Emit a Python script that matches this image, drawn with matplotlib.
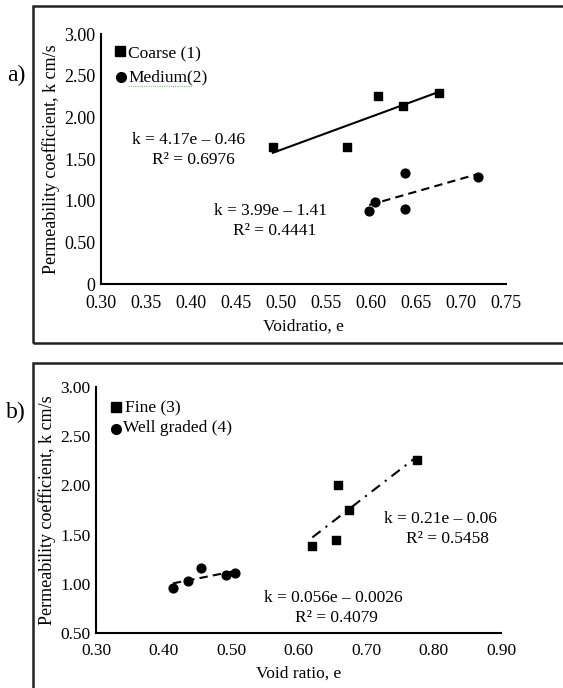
import numpy as np
import matplotlib.pyplot as plt
from matplotlib.patches import Rectangle

plt.rcParams['font.family'] = ['Liberation Serif', 'DejaVu Serif']

# panel a data
coarse_e = [0.491, 0.573, 0.608, 0.636, 0.676]
coarse_k = [1.64, 1.64, 2.26, 2.14, 2.29]
medium_e = [0.598, 0.604, 0.638, 0.638, 0.719]
medium_k = [0.875, 0.979, 1.33, 0.903, 1.29]

# panel b data
fine_e = [0.6205, 0.655, 0.6585, 0.675, 0.7756]
fine_k = [1.385, 1.446, 2.007, 1.753, 2.26]
well_e = [0.414, 0.436, 0.456, 0.493, 0.506]
well_k = [0.956, 1.03, 1.162, 1.088, 1.105]

xticks_a = [0.30, 0.35, 0.40, 0.45, 0.50, 0.55, 0.60, 0.65, 0.70, 0.75]
yticks_a = [0, 0.5, 1.0, 1.5, 2.0, 2.5, 3.0]
xticks_b = [0.30, 0.40, 0.50, 0.60, 0.70, 0.80, 0.90]
yticks_b = [0.5, 1.0, 1.5, 2.0, 2.5, 3.0]

W, H = 563, 688
fig = plt.figure(figsize=(W / 100, H / 100), dpi=100)


def px(x, y):
    return x / W, 1 - y / H


def trend(ax, e, k, **kw):
    p = np.polyfit(e, k, 1)
    xs = np.array([min(e), max(e)])
    ax.plot(xs, np.polyval(p, xs), color='black', lw=1.5, **kw)


def style(ax, xt, yt, ylabels, fs, xlab, xpad):
    for s in ['top', 'right']:
        ax.spines[s].set_visible(False)
    for s in ['left', 'bottom']:
        ax.spines[s].set_linewidth(1.5)
    ax.set_xticks(xt)
    ax.set_xticklabels(['%.2f' % v for v in xt])
    ax.set_yticks(yt)
    ax.set_yticklabels(ylabels)
    ax.tick_params(length=0, labelsize=fs)
    ax.tick_params(axis='x', pad=xpad)
    ax.tick_params(axis='y', pad=4)
    ax.set_xlabel(xlab, fontsize=12.5, labelpad=5)
    ax.set_ylabel('Permeability coefficient, k cm/s', fontsize=13, labelpad=3)


# frames around panels
fig.patches.append(Rectangle(px(33, 343), (W + 10 - 33) / W, (343 - 6) / H,
                             transform=fig.transFigure, fill=False, lw=1.8, ec='#222222'))
fig.patches.append(Rectangle(px(33, H + 10), (W + 10 - 33) / W, (H + 10 - 363) / H,
                             transform=fig.transFigure, fill=False, lw=1.8, ec='#222222'))

# ---- panel a
axa = fig.add_axes([101 / W, 1 - 284 / H, (506 - 101) / W, (284 - 34) / H])
axa.scatter(coarse_e, coarse_k, marker='s', s=40, color='black', zorder=3)
axa.scatter(medium_e, medium_k, marker='o', s=40, color='black', zorder=3)
trend(axa, coarse_e, coarse_k, ls='-')
trend(axa, medium_e, medium_k, ls=(0, (4, 2.5)))
axa.set_xlim(0.30, 0.75)
axa.set_ylim(0, 3.0)
style(axa, xticks_a, yticks_a, ['0'] + ['%.2f' % v for v in yticks_a[1:]],
      13, 'Voidratio, e', 8)

# ---- panel b
axb = fig.add_axes([96 / W, 1 - 633 / H, (501 - 96) / W, (633 - 387) / H])
axb.scatter(fine_e, fine_k, marker='s', s=40, color='black', zorder=3)
axb.scatter(well_e, well_k, marker='o', s=40, color='black', zorder=3)
trend(axb, fine_e, fine_k, ls=(0, (5, 3, 1, 3)))
trend(axb, well_e, well_k, ls=(0, (4, 2.5)))
axb.set_xlim(0.30, 0.90)
axb.set_ylim(0.5, 3.0)
style(axb, xticks_b, yticks_b, ['%.2f' % v for v in yticks_b],
      12.5, 'Void ratio, e', 7)

# legends drawn as figure markers + text
fig.lines.append(plt.Line2D([120 / W], [1 - 51 / H], marker='s', ms=7, color='black',
                            transform=fig.transFigure))
fig.lines.append(plt.Line2D([121 / W], [1 - 77 / H], marker='o', ms=7, color='black',
                            transform=fig.transFigure))
fig.text(*px(128, 54), 'Coarse (1)', fontsize=12.5, va='center')
fig.text(*px(128, 77), 'Medium(2)', fontsize=12.5, va='center')
fig.lines.append(plt.Line2D([128 / W, 192 / W], [1 - 86 / H] * 2, color='#7cc47c', lw=0.8,
                            ls=(0, (1, 1)), transform=fig.transFigure))

fig.lines.append(plt.Line2D([116 / W], [1 - 407 / H], marker='s', ms=7, color='black',
                            transform=fig.transFigure))
fig.lines.append(plt.Line2D([116 / W], [1 - 429 / H], marker='o', ms=7, color='black',
                            transform=fig.transFigure))
fig.text(*px(125, 408), 'Fine (3)', fontsize=12.5, va='center')
fig.text(*px(123, 428), 'Well graded (4)', fontsize=12.5, va='center')

# equations
eqs = [
    (188, 140, 'k = 4.17e \u2013 0.46'), (193, 160, 'R\u00b2 = 0.6976'),
    (270, 211, 'k = 3.99e \u2013 1.41'), (275, 231, 'R\u00b2 = 0.4441'),
    (440, 519, 'k = 0.21e \u2013 0.06'), (447, 539, 'R\u00b2 = 0.5458'),
    (333, 598, 'k = 0.056e \u2013 0.0026'), (336, 618, 'R\u00b2 = 0.4079'),
]
for x, y, t in eqs:
    fig.text(*px(x, y), t, fontsize=12.5, ha='center', va='center')

# panel letters
fig.text(*px(16, 75), 'a)', fontsize=17, ha='center', va='center')
fig.text(*px(16, 412), 'b)', fontsize=17, ha='center', va='center')

plt.savefig('out.png', dpi=100)
plt.close()
